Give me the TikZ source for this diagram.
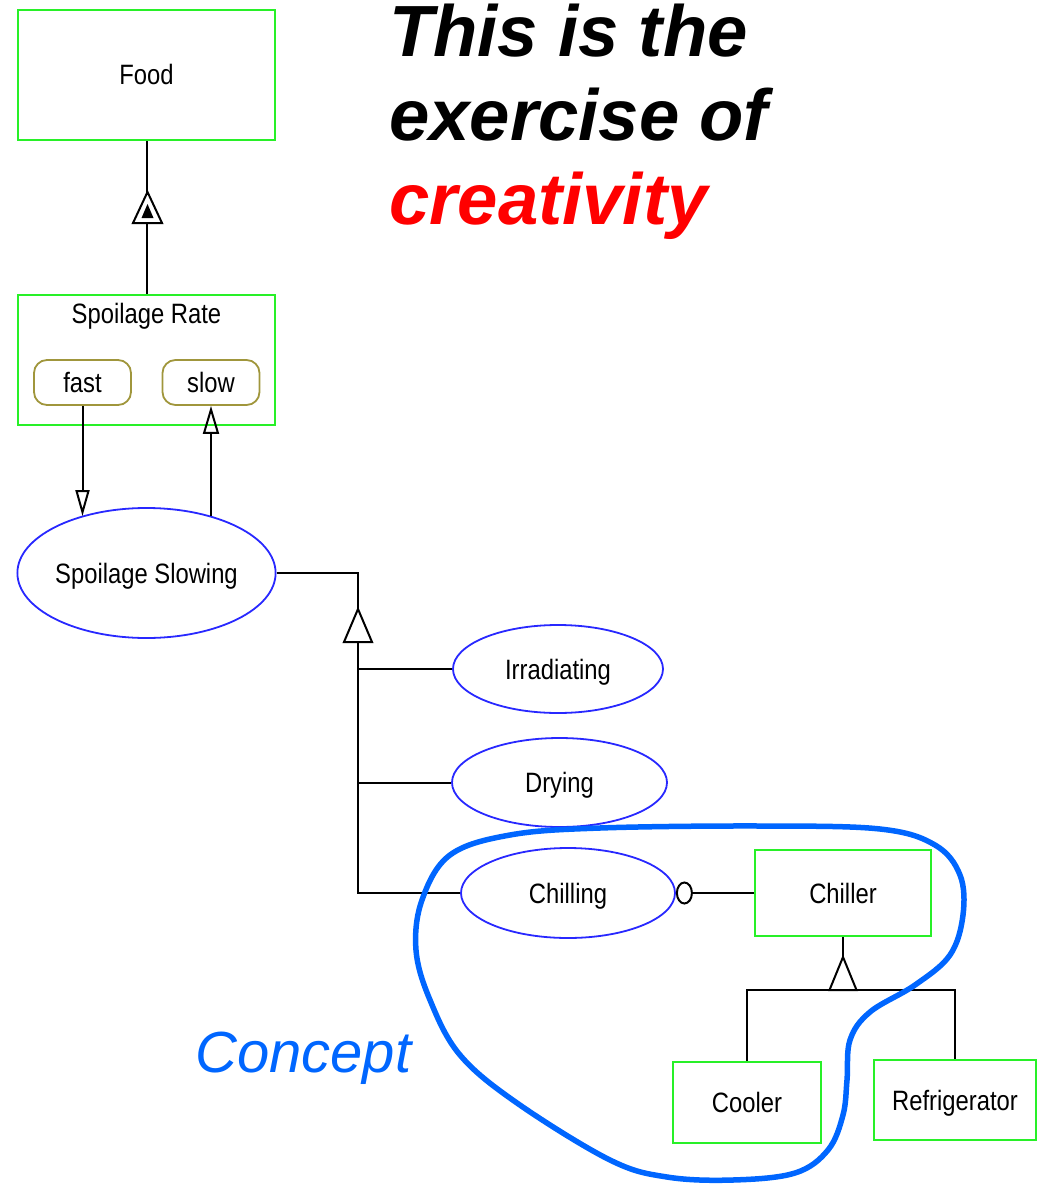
\documentclass[tikz,border=0pt]{standalone}
\usepackage{fontspec}
\setmainfont{Liberation Sans}
\newfontfamily\lblfont[FakeStretch=0.85]{Liberation Sans}
\usetikzlibrary{arrows.meta,shapes.geometric}
\definecolor{opmgreen}{RGB}{40,240,40}
\definecolor{opmblue}{RGB}{40,40,255}
\definecolor{opmolive}{RGB}{160,150,60}
\definecolor{blobblue}{RGB}{0,102,255}
\begin{document}
\begin{tikzpicture}[x=1pt,y=-1pt,
  lbl/.style={inner sep=0pt, font=\lblfont\fontsize{28}{30}\selectfont, text height=20pt, text depth=0pt},
  cls/.style={lbl, draw=opmgreen, line width=2.2pt},
  proc/.style={lbl, ellipse, draw=opmblue, line width=1.8pt},
  pill/.style={lbl, draw=opmolive, line width=1.8pt, rounded corners=13pt},
  link/.style={line width=2pt, draw=black},
  headline/.style={anchor=base west, inner sep=0pt, font=\bfseries\itshape\fontsize{72.5}{80}\selectfont}]
\useasboundingbox (0,0) rectangle (1038,1188);

% things
\node[cls, minimum width=257pt, minimum height=130pt] (food) at (146.5,75) {Food};
\node[cls, minimum width=257pt, minimum height=130pt] (sr) at (146.5,360) {};
\node[lbl] (srt) at (146.5,313) {Spoilage Rate};
\node[pill, minimum width=97pt, minimum height=45pt] (fast) at (82.5,382.5) {fast};
\node[pill, minimum width=97pt, minimum height=45pt] (slow) at (211,382.5) {slow};
\node[proc, minimum width=257pt, minimum height=130pt] (ss) at (146.5,573) {Spoilage Slowing};
\node[proc, minimum width=210pt, minimum height=88pt] (irr) at (558,669) {Irradiating};
\node[proc, minimum width=215pt, minimum height=89pt] (dry) at (559.5,782.5) {Drying};
\node[proc, minimum width=214pt, minimum height=90pt] (chil) at (568,893) {Chilling};
\node[cls, minimum width=176pt, minimum height=86pt] (chiller) at (843,893) {Chiller};
\node[cls, minimum width=148pt, minimum height=81pt] (cooler) at (747,1102.5) {Cooler};
\node[cls, minimum width=162pt, minimum height=80pt] (refr) at (955,1100) {Refrigerator};

% exhibition
\draw[link] (food.south) -- (sr.north);
\coordinate (exA) at (147.5,192);
\draw[link, fill=white] (exA) -- ++(-14.5,31) -- ++(29,0) -- cycle;
\fill[black] (exA) ++(0,12) -- ++(-6,14) -- ++(12,0) -- cycle;

% state arrows
\draw[link, -{Triangle[open, length=26pt, width=14pt]}] (fast.south) -- (fast.south |- ss.139);
\draw[link, -{Triangle[open, length=28pt, width=16pt]}] (slow.south |- ss.41) -- (slow.south);

% generalization 1
\coordinate (g1a) at (358,609);
\coordinate (g1b) at (358,642);
\draw[link] (ss.east) -| (g1a);
\draw[link] (g1b) |- (chil.west);
\draw[link] (g1b |- irr.west) -- (irr.west);
\draw[link] (g1b |- dry.west) -- (dry.west);
\draw[link, fill=white] (g1a) -- ++(-14,33) -- ++(28,0) -- cycle;

% agent link
\draw[link, {Ellipse[open, length=17pt, width=23pt]}-] (chil.east) -- (chiller.west);

% generalization 2
\coordinate (g2a) at (843,957);
\coordinate (g2b) at (843,990);
\draw[link] (chiller.south) -- (g2a);
\draw[link] (cooler.north) |- (g2b) -| (refr.north);
\draw[link, fill=white] (g2a) -- ++(-13.5,33) -- ++(27,0) -- cycle;

% headline
\node[headline] (t1) at (389,57) {This is the};
\node[headline] (t2) at (389,141) {exercise of};
\node[headline, text=red] (t3) at (389,224) {creativity};

% concept
\node[anchor=base west, inner sep=0pt, text=blobblue, font=\itshape\fontsize{58}{60}\selectfont] (concept) at (195,1072) {Concept};

% blob
\draw[blobblue, line width=5.5pt] plot[smooth cycle, tension=0.6] coordinates {
 (600,828) (760,826) (880,829) (935,845) (960,875) (963,915) (950,955)
 (915,985) (870,1012) (850,1040) (847,1080) (843,1115) (828,1150)
 (795,1173) (733,1180) (667,1177) (610,1160) (517,1103) (460,1055)
 (430,1000) (416,950) (422,900) (450,855) (510,835)};
\end{tikzpicture}
\end{document}
